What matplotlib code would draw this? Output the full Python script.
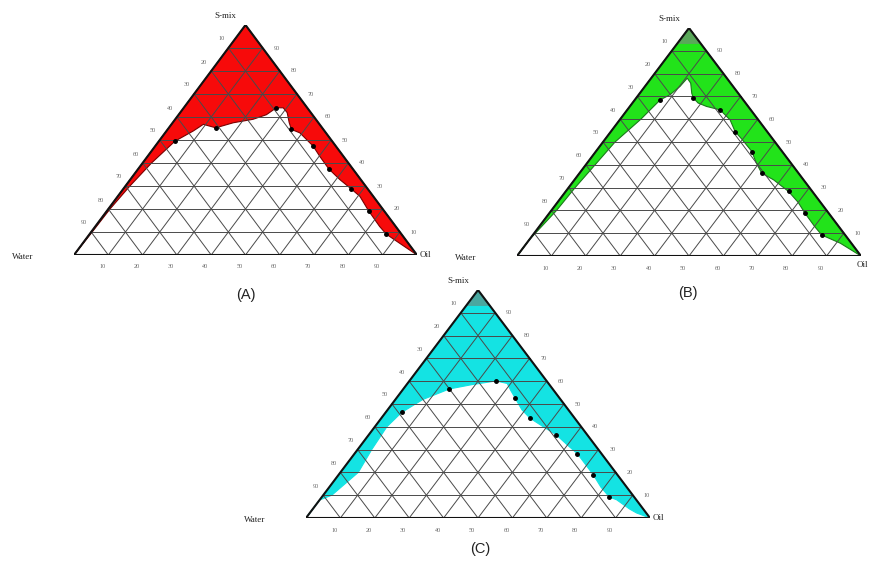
import numpy as np
import matplotlib
matplotlib.use("Agg")
import matplotlib.pyplot as plt

# ternary data, (oil %, s-mix %); water = 100 - oil - smix
# boundary of the shaded region, from the water side round to the oil corner
a_oil = [0, 0.3, 0.5, 1.3, 2.6, 4.7, 7.8, 9.3, 13.7, 17.7, 22.7, 25.6, 27.0, 29.0,
         31.2, 34.0, 36.1, 39.3, 46.1, 50.2, 55.6, 61.1, 66.5, 70.6, 76.3, 82.9,
         86.6, 92.4, 100]
a_smix = [0, 10, 20, 30, 40, 49.5, 53.9, 56.8, 55.3, 57.5, 59.0, 61.0, 64.0, 64.0,
          61.9, 57.5, 54.6, 53.1, 47.3, 42.9, 37.4, 32.8, 28.7, 25.5, 19.2, 12.4,
          9.0, 5.1, 0]
a_dot_oil = [4.7, 13.7, 27.0, 36.1, 46.1, 55.6, 66.5, 76.3, 86.6]
a_dot_smix = [49.5, 55.3, 64.0, 54.6, 47.3, 37.4, 28.7, 19.2, 9.0]

b_oil = [0, 1.5, 1.9, 2.7, 3.5, 6.0, 7.4, 9.1, 10.2, 10.5, 12.6, 15.1, 16.6, 19.1,
         22.3, 27.0, 32.1, 36.1, 40.0, 45.4, 49.0, 53.0, 57.9, 64.8, 70.0, 74.4,
         80.0, 84.0, 91.2, 100]
b_smix = [7, 20, 30, 40, 50, 60, 68.5, 70.7, 74.4, 78.0, 75.8, 71.4, 69.3, 67.1,
          65.6, 64.1, 59.7, 54.6, 51.0, 45.8, 41.0, 36.3, 33.4, 28.3, 23.5, 18.7,
          13.0, 9.2, 5.6, 0]
b_dot_oil = [7.4, 16.6, 27.0, 36.1, 45.4, 53.0, 64.8, 74.4, 84.0]
b_dot_smix = [68.5, 69.3, 64.1, 54.6, 45.8, 36.3, 28.3, 18.7, 9.2]

c_oil = [0, 2.5, 5.2, 4.1, 3.5, 4.65, 8.0, 13.4, 19.0, 25.2, 29.0, 31.5, 34.5,
         39.0, 43.2, 49.0, 54.5, 60.0, 64.8, 70.0, 74.0, 79.0, 83.6, 86.3, 92.0,
         95.0, 100]
c_smix = [7.9, 10, 20, 30, 40, 46.3, 52.0, 56.6, 58.5, 60.1, 59.0, 56.0, 52.6,
          47.5, 43.8, 40.0, 36.5, 32.0, 28.2, 23.0, 19.0, 13.5, 9.2, 8.0, 4.0,
          2.2, 0]
c_dot_oil = [4.65, 13.4, 25.2, 34.5, 43.2, 54.5, 64.8, 74.0, 83.6]
c_dot_smix = [46.3, 56.6, 60.1, 52.6, 43.8, 36.5, 28.2, 19.0, 9.2]

ticks = [10, 20, 30, 40, 50, 60, 70, 80, 90]

SERIF = "Liberation Serif"
SANS = "Liberation Sans"


def to_xy(oil, smix):
    oil = np.asarray(oil, dtype=float)
    smix = np.asarray(smix, dtype=float)
    return oil + smix / 2.0, smix


def draw_panel(ax, oil, smix, dot_oil, dot_smix, color, edge, tip=None,
               oil_pos=((3, 0), "left")):
    ax.set_xlim(0, 100)
    ax.set_ylim(0, 100)
    ax.axis("off")

    # shaded region: corners water -> apex -> oil, then the boundary back
    pts_oil = [0, 0, 100] + list(oil)[::-1]
    pts_smix = [0, 100, 0] + list(smix)[::-1]
    x, y = to_xy(pts_oil, pts_smix)
    ax.fill(x, y, color=color, ec=edge, lw=0.8, zorder=1)

    if tip is not None:
        x, y = to_xy([0, 0, 7], [93, 100, 93])
        ax.fill(x, y, color=tip, lw=0, zorder=1.5)

    # grid
    gkw = dict(color="#4a4a4a", lw=0.7, zorder=2)
    for k in ticks:
        x, y = to_xy([0, 100 - k], [k, k])
        ax.plot(x, y, **gkw)
        x, y = to_xy([k, k], [0, 100 - k])
        ax.plot(x, y, **gkw)
        x, y = to_xy([100 - k, 0], [0, 100 - k])
        ax.plot(x, y, **gkw)

    # frame
    x, y = to_xy([0, 0, 100, 0], [0, 100, 0, 0])
    ax.plot(x, y, color="#111111", lw=1.5, zorder=3, solid_joinstyle="miter")

    x, y = to_xy(dot_oil, dot_smix)
    ax.plot(x, y, "o", color="black", ms=2.5, zorder=4)

    tkw = dict(textcoords="offset pixels", fontsize=4.5, color="#666666",
               family=SERIF, ha="center", va="center", annotation_clip=False)
    for k in ticks:
        ax.annotate(str(k), to_xy(k, 0), xytext=(-6, -12), **tkw)
        ax.annotate(str(k), to_xy(0, 100 - k), xytext=(-7, 9), **tkw)
        ax.annotate(str(k), to_xy(100 - k, k), xytext=(14, 0), **tkw)

    lkw = dict(textcoords="offset pixels", fontsize=6.5, color="#222222",
               family=SERIF, va="center", annotation_clip=False)
    ax.annotate("S-mix", to_xy(0, 100), xytext=(-20, 9), ha="center", **lkw)
    ax.annotate("Water", to_xy(0, 0), xytext=(-51, -2), ha="center", **lkw)
    ax.annotate("Oil", to_xy(100, 0), xytext=oil_pos[0], ha=oil_pos[1], **lkw)


fig = plt.figure(figsize=(8.69, 5.62), dpi=100)
W, H = 869.0, 562.0


def panel_axes(left, base, width, height):
    return fig.add_axes([left / W, (H - base) / H, width / W, height / H])


ax_a = panel_axes(74, 255, 343, 230)
ax_b = panel_axes(517, 256, 344, 228)
ax_c = panel_axes(306, 518, 344, 228)

draw_panel(ax_a, a_oil, a_smix, a_dot_oil, a_dot_smix, "#f70a0a", "#7a0000")
draw_panel(ax_b, b_oil, b_smix, b_dot_oil, b_dot_smix, "#22e31a", "#1a7a1a",
           tip="#5aa85a", oil_pos=((7, -9), "right"))
draw_panel(ax_c, c_oil, c_smix, c_dot_oil, c_dot_smix, "#14e3e3", "#14e3e3",
           tip="#4aa8a0")

for lab, px, py in [("(A)", 246, 295), ("(B)", 688, 293), ("(C)", 480, 549)]:
    fig.text(px / W, 1 - py / H, lab, ha="center", va="center",
             fontsize=10.5, family=SANS, color="#222222")

fig.savefig("out.png", dpi=100)
